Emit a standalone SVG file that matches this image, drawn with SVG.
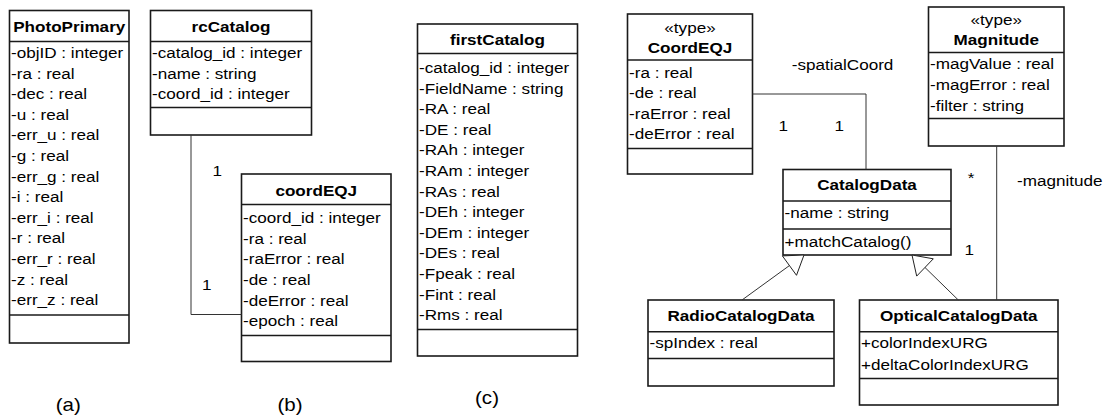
<svg xmlns="http://www.w3.org/2000/svg" width="1107" height="417" viewBox="0 0 1107 417">
  <style>
    .box{fill:#fff;stroke:#1a1a1a;stroke-width:1.6}
    .sep{stroke:#1a1a1a;stroke-width:1.6}
    .t{font-family:"Liberation Sans",Arial,sans-serif;font-size:15px;fill:#000}
    .b{font-weight:bold}
    .m{text-anchor:middle}
    .cap{font-size:18px}
    .conn{fill:none;stroke:#333;stroke-width:1}
    .tri{fill:#fff;stroke:#222;stroke-width:1}
  </style>
  <rect width="1107" height="417" fill="#fff"/>

  <!-- (a) PhotoPrimary -->
  <g id="photoPrimary">
    <rect class="box" x="9.5" y="10.5" width="119.5" height="332.5"/>
    <line class="sep" x1="9.5" y1="41.5" x2="129" y2="41.5"/>
    <line class="sep" x1="9.5" y1="315" x2="129" y2="315"/>
    <text class="t b m" transform="translate(69.25 31.5) scale(1.14 1)">PhotoPrimary</text>
    <g transform="translate(11 0) scale(1.14 1)">
      <text class="t" y="58">-objID : integer</text>
      <text class="t" y="78.6">-ra : real</text>
      <text class="t" y="99.2">-dec : real</text>
      <text class="t" y="119.8">-u : real</text>
      <text class="t" y="140.4">-err_u : real</text>
      <text class="t" y="161">-g : real</text>
      <text class="t" y="181.6">-err_g : real</text>
      <text class="t" y="202.2">-i : real</text>
      <text class="t" y="222.8">-err_i : real</text>
      <text class="t" y="243.4">-r : real</text>
      <text class="t" y="264">-err_r : real</text>
      <text class="t" y="284.6">-z : real</text>
      <text class="t" y="305.2">-err_z : real</text>
    </g>
  </g>

  <!-- (b) rcCatalog and coordEQJ -->
  <g id="rcCatalog">
    <rect class="box" x="150.5" y="10.5" width="161" height="124.5"/>
    <line class="sep" x1="150.5" y1="41.5" x2="311.5" y2="41.5"/>
    <line class="sep" x1="150.5" y1="107.5" x2="311.5" y2="107.5"/>
    <text class="t b m" transform="translate(231 31.8) scale(1.14 1)">rcCatalog</text>
    <g transform="translate(152 0) scale(1.14 1)">
      <text class="t" y="58">-catalog_id : integer</text>
      <text class="t" y="78.6">-name : string</text>
      <text class="t" y="99.2">-coord_id : integer</text>
    </g>
  </g>

  <g id="coordEQJ">
    <rect class="box" x="241.5" y="174" width="149.5" height="187.5"/>
    <line class="sep" x1="241.5" y1="204.5" x2="391" y2="204.5"/>
    <line class="sep" x1="241.5" y1="335.5" x2="391" y2="335.5"/>
    <text class="t b m" transform="translate(316.25 196) scale(1.14 1)">coordEQJ</text>
    <g transform="translate(243 0) scale(1.14 1)">
      <text class="t" y="223">-coord_id : integer</text>
      <text class="t" y="243.7">-ra : real</text>
      <text class="t" y="264.4">-raError : real</text>
      <text class="t" y="285.1">-de : real</text>
      <text class="t" y="305.8">-deError : real</text>
      <text class="t" y="326.5">-epoch : real</text>
    </g>
  </g>

  <!-- (c) firstCatalog -->
  <g id="firstCatalog">
    <rect class="box" x="417.5" y="24" width="160" height="332"/>
    <line class="sep" x1="417.5" y1="53.5" x2="577.5" y2="53.5"/>
    <line class="sep" x1="417.5" y1="329.5" x2="577.5" y2="329.5"/>
    <text class="t b m" transform="translate(497.5 44.7) scale(1.14 1)">firstCatalog</text>
    <g transform="translate(419 0) scale(1.14 1)">
      <text class="t" y="73">-catalog_id : integer</text>
      <text class="t" y="93.6">-FieldName : string</text>
      <text class="t" y="114.2">-RA : real</text>
      <text class="t" y="134.8">-DE : real</text>
      <text class="t" y="155.4">-RAh : integer</text>
      <text class="t" y="176">-RAm : integer</text>
      <text class="t" y="196.6">-RAs : real</text>
      <text class="t" y="217.2">-DEh : integer</text>
      <text class="t" y="237.8">-DEm : integer</text>
      <text class="t" y="258.4">-DEs : real</text>
      <text class="t" y="279">-Fpeak : real</text>
      <text class="t" y="299.6">-Fint : real</text>
      <text class="t" y="320.2">-Rms : real</text>
    </g>
  </g>

  <!-- class model -->
  <g id="coordEQJType">
    <rect class="box" x="627.5" y="14" width="125" height="160"/>
    <line class="sep" x1="627.5" y1="60" x2="752.5" y2="60"/>
    <line class="sep" x1="627.5" y1="148.5" x2="752.5" y2="148.5"/>
    <text class="t m" transform="translate(690 33.3) scale(1.14 1)">«type»</text>
    <text class="t b m" transform="translate(690 52.7) scale(1.14 1)">CoordEQJ</text>
    <g transform="translate(629 0) scale(1.14 1)">
      <text class="t" y="78">-ra : real</text>
      <text class="t" y="98.5">-de : real</text>
      <text class="t" y="119">-raError : real</text>
      <text class="t" y="139.5">-deError : real</text>
    </g>
  </g>

  <g id="magnitude">
    <rect class="box" x="928.5" y="7" width="135.5" height="139"/>
    <line class="sep" x1="928.5" y1="52.5" x2="1064" y2="52.5"/>
    <line class="sep" x1="928.5" y1="118.5" x2="1064" y2="118.5"/>
    <text class="t m" transform="translate(996.25 25.2) scale(1.14 1)">«type»</text>
    <text class="t b m" transform="translate(996.25 45.4) scale(1.14 1)">Magnitude</text>
    <g transform="translate(930 0) scale(1.14 1)">
      <text class="t" y="69.5">-magValue : real</text>
      <text class="t" y="90.2">-magError : real</text>
      <text class="t" y="110.9">-filter : string</text>
    </g>
  </g>

  <g id="catalogData">
    <rect class="box" x="783" y="169.5" width="168" height="85.5"/>
    <line class="sep" x1="783" y1="201" x2="951" y2="201"/>
    <line class="sep" x1="783" y1="229" x2="951" y2="229"/>
    <text class="t b m" transform="translate(867 190.4) scale(1.14 1)">CatalogData</text>
    <g transform="translate(784.5 0) scale(1.14 1)">
      <text class="t" y="218.5">-name : string</text>
      <text class="t" y="246.9">+matchCatalog()</text>
    </g>
  </g>

  <g id="radioCatalogData">
    <rect class="box" x="648" y="300" width="186" height="86"/>
    <line class="sep" x1="648" y1="331.7" x2="834" y2="331.7"/>
    <line class="sep" x1="648" y1="358.5" x2="834" y2="358.5"/>
    <text class="t b m" transform="translate(741 321) scale(1.14 1)">RadioCatalogData</text>
    <g transform="translate(649.5 0) scale(1.14 1)">
      <text class="t" y="348.5">-spIndex : real</text>
    </g>
  </g>

  <g id="opticalCatalogData">
    <rect class="box" x="859.5" y="300" width="198.5" height="105"/>
    <line class="sep" x1="859.5" y1="331.7" x2="1058" y2="331.7"/>
    <line class="sep" x1="859.5" y1="378.5" x2="1058" y2="378.5"/>
    <text class="t b m" transform="translate(958.75 321) scale(1.14 1)">OpticalCatalogData</text>
    <g transform="translate(861 0) scale(1.14 1)">
      <text class="t" y="348.5">+colorIndexURG</text>
      <text class="t" y="369.8">+deltaColorIndexURG</text>
    </g>
  </g>

  <!-- associations, generalizations and their labels -->
  <g id="connectors">
    <polyline class="conn" points="191,135 191,314.5 241.5,314.5"/>
    <polyline class="conn" points="752.5,94 866,94 866,169.5"/>
    <line class="conn" x1="996.7" y1="146" x2="996.7" y2="300"/>
    <line class="conn" x1="742" y1="300" x2="789.4" y2="265.6"/>
    <polygon class="tri" points="804,255 796.5,275.3 782.4,255.9"/>
    <line class="conn" x1="958.3" y1="300" x2="925" y2="267.5"/>
    <polygon class="tri" points="912,255 933.3,258.8 916.7,276.1"/>

    <text class="t m" transform="translate(217.3 176) scale(1.14 1)">1</text>
    <text class="t m" transform="translate(206.7 289.6) scale(1.14 1)">1</text>
    <text class="t" transform="translate(791.7 70) scale(1.14 1)">-spatialCoord</text>
    <text class="t m" transform="translate(783.3 131) scale(1.14 1)">1</text>
    <text class="t m" transform="translate(839.3 131) scale(1.14 1)">1</text>
    <text class="t m" transform="translate(971 182.6) scale(1.14 1)">*</text>
    <text class="t" transform="translate(1017 186) scale(1.14 1)">-magnitude</text>
    <text class="t m" transform="translate(969.3 255.4) scale(1.14 1)">1</text>
  </g>

  <!-- panel captions -->
  <text class="t cap m" transform="translate(68.3 410.7) scale(1.14 1)">(a)</text>
  <text class="t cap m" transform="translate(290 410.7) scale(1.14 1)">(b)</text>
  <text class="t cap m" transform="translate(487 404) scale(1.14 1)">(c)</text>
</svg>
